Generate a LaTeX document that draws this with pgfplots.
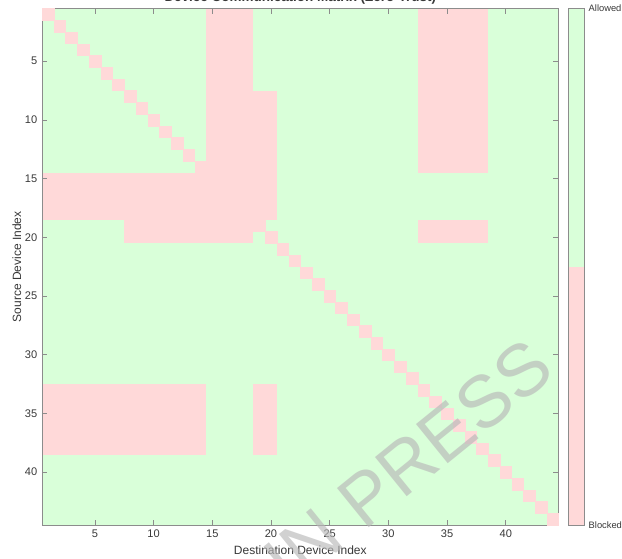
\documentclass[border=0pt]{standalone}
\usepackage{fontspec}
\setmainfont{Liberation Sans}
\usepackage{pgfplots}
\pgfplotsset{compat=1.18}
\definecolor{blk}{rgb}{1,0.85,0.85}
\definecolor{alw}{rgb}{0.85,1,0.85}
\definecolor{axgray}{rgb}{0.55,0.55,0.55}
\definecolor{txt}{rgb}{0.22,0.22,0.22}
\definecolor{wm}{rgb}{0.72,0.72,0.72}
\begin{document}
\begin{tikzpicture}
\begin{axis}[
  at={(0,0)}, anchor=south west,
  scale only axis, width=387.5pt, height=387.5pt,
  xmin=0.5, xmax=44.5, ymin=0.5, ymax=44.5,
  y dir=reverse, enlargelimits=false,
  axis on top,
  xtick={5,10,...,40}, ytick={5,10,...,40},
  tick align=inside, major tick length=4pt,
  axis line style={axgray, line width=0.6pt},
  tick style={axgray, line width=0.5pt},
  tick label style={font=\fontsize{8.3}{10}\selectfont, text=txt},
  /pgf/number format/assume math mode=true,
  xlabel={Destination Device Index},
  ylabel={Source Device Index},
  label style={font=\fontsize{9}{11}\selectfont, text=txt},
  xlabel style={at={(axis description cs:0.5,-0.058)}, anchor=base},
  ylabel style={at={(axis description cs:-0.0406,0.5)}, anchor=base},
]
% allowed (default) area
\addplot[fill=alw, draw=none] coordinates {(0.5,0.5) (44.5,0.5) (44.5,44.5) (0.5,44.5)} --cycle;
% blocked blocks
\addplot[fill=blk, draw=none] coordinates {(14.5,0.5) (18.5,0.5) (18.5,20.5) (14.5,20.5)} --cycle;
\addplot[fill=blk, draw=none] coordinates {(14.5,7.5) (20.5,7.5) (20.5,18.5) (14.5,18.5)} --cycle;
\addplot[fill=blk, draw=none] coordinates {(0.5,14.5) (20.5,14.5) (20.5,18.5) (0.5,18.5)} --cycle;
\addplot[fill=blk, draw=none] coordinates {(7.5,18.5) (18.5,18.5) (18.5,20.5) (7.5,20.5)} --cycle;
\addplot[fill=blk, draw=none] coordinates {(32.5,0.5) (38.5,0.5) (38.5,14.5) (32.5,14.5)} --cycle;
\addplot[fill=blk, draw=none] coordinates {(32.5,18.5) (38.5,18.5) (38.5,20.5) (32.5,20.5)} --cycle;
\addplot[fill=blk, draw=none] coordinates {(0.5,32.5) (14.5,32.5) (14.5,38.5) (0.5,38.5)} --cycle;
\addplot[fill=blk, draw=none] coordinates {(18.5,32.5) (20.5,32.5) (20.5,38.5) (18.5,38.5)} --cycle;
% blocked self-communication (diagonal)
\addplot[blk, only marks, mark=square*, mark size=4.35pt, mark options={draw=blk, fill=blk, line width=0.2pt}] coordinates {
(1,1) (2,2) (3,3) (4,4) (5,5) (6,6) (7,7) (8,8) (9,9) (10,10)
(11,11) (12,12) (13,13) (14,14) (15,15) (16,16) (17,17) (18,18) (19,19) (20,20)
(21,21) (22,22) (23,23) (24,24) (25,25) (26,26) (27,27) (28,28) (29,29) (30,30)
(31,31) (32,32) (33,33) (34,34) (35,35) (36,36) (37,37) (38,38) (39,39) (40,40)
(41,41) (42,42) (43,43) (44,44)};
\end{axis}
% colorbar
\begin{axis}[
  at={(394.5pt,0)}, anchor=south west,
  scale only axis, width=12pt, height=387.5pt,
  xmin=0, xmax=1, ymin=0, ymax=1, enlargelimits=false,
  axis on top,
  xtick=\empty, ytick={0,1}, yticklabels={Blocked,Allowed},
  yticklabel pos=right, major tick length=0pt,
  axis line style={axgray, line width=0.6pt},
  tick label style={font=\fontsize{7}{8.5}\selectfont, text=txt},
]
\addplot[fill=blk, draw=none] coordinates {(0,0) (1,0) (1,0.5) (0,0.5)} --cycle;
\addplot[fill=alw, draw=none] coordinates {(0,0.5) (1,0.5) (1,1) (0,1)} --cycle;
\end{axis}
% title (cut by the page top, as in the reference)
\node[anchor=base, font=\fontsize{10.1}{12}\selectfont\bfseries, text=txt] at (193.75pt,392.25pt) {Device Communication Matrix (Zero-Trust)};
% watermark
\node[rotate=39, font=\fontsize{55}{63}\selectfont, text=wm, opacity=0.65, inner sep=0pt] (p) at (302.3pt,68.7pt) {PRESS};
\node[rotate=39, anchor=east, font=\fontsize{55}{63}\selectfont, text=wm, opacity=0.65, inner sep=0pt] at (p.west) {IN\kern0.28em};
\pgfresetboundingbox
\path[use as bounding box] (-31.5pt,-24.75pt) rectangle (435pt,393.75pt);
\end{tikzpicture}
\end{document}
